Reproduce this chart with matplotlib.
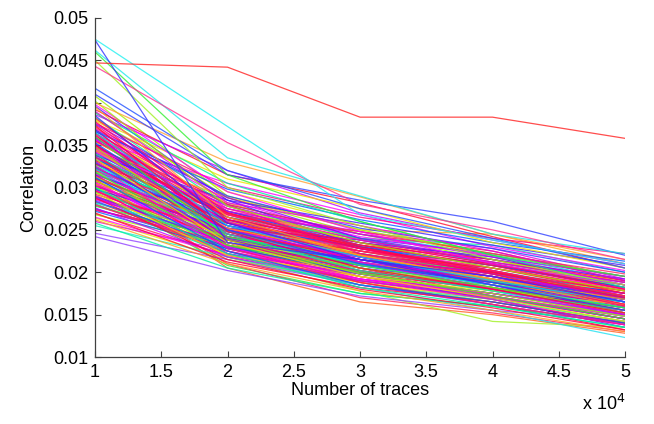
import matplotlib
matplotlib.use("Agg")
import matplotlib.pyplot as plt
import numpy as np

traces = [10000, 20000, 30000, 40000, 50000]

# correlation values (x 1e-3) per key hypothesis, at each number of traces
curves = [
    [44.7, 44.2, 38.3, 38.3, 35.8],
    [47.5, 37.2, 26.8, 23.8, 21.0],
    [47.4, 23.5, 21.5, 19.5, 16.5],
    [44.3, 35.3, 28.0, 25.0, 21.5],
    [46.2, 33.5, 29.0, 24.5, 22.2],
    [46.0, 31.5, 26.0, 22.0, 19.5],
    [45.0, 30.0, 25.5, 21.5, 18.5],
    [41.7, 32.0, 27.5, 24.0, 20.5],
    [41.0, 31.5, 28.5, 26.0, 22.0],
    [40.0, 33.0, 28.9, 24.5, 21.5],
    [40.2, 27.8, 23.5, 20.5, 17.8],
    [39.8, 29.5, 24.8, 21.0, 18.5],
    [39.5, 26.5, 22.0, 19.2, 16.8],
    [39.0, 28.2, 25.5, 22.5, 19.0],
    [38.8, 30.5, 26.0, 22.0, 18.2],
    [38.5, 25.8, 21.5, 18.5, 15.5],
    [38.2, 27.0, 23.2, 20.8, 17.5],
    [38.0, 31.0, 27.5, 23.5, 20.5],
    [37.8, 26.2, 22.8, 19.8, 16.2],
    [37.5, 28.8, 24.0, 21.5, 19.2],
    [37.3, 24.8, 20.5, 18.0, 15.2],
    [37.0, 27.5, 23.8, 21.2, 18.8],
    [36.8, 29.0, 25.2, 22.8, 20.0],
    [36.5, 25.5, 21.8, 19.0, 16.5],
    [36.3, 26.8, 22.5, 20.2, 17.2],
    [36.0, 24.2, 20.8, 18.2, 15.8],
    [35.8, 27.2, 24.5, 21.8, 19.5],
    [35.5, 28.0, 22.2, 19.5, 16.0],
    [35.3, 25.0, 21.0, 18.8, 16.8],
    [35.0, 26.5, 23.0, 20.0, 17.0],
    [34.8, 23.8, 19.8, 17.5, 14.8],
    [34.6, 27.8, 24.2, 22.0, 18.5],
    [34.4, 25.2, 22.0, 19.2, 16.2],
    [34.2, 26.0, 21.2, 18.0, 15.0],
    [34.0, 24.5, 20.2, 17.8, 15.5],
    [33.8, 28.5, 25.8, 23.2, 20.8],
    [33.6, 25.8, 22.5, 20.5, 17.8],
    [33.4, 23.5, 19.5, 17.0, 14.2],
    [33.2, 26.2, 23.5, 21.0, 18.0],
    [33.0, 24.0, 21.5, 19.5, 16.5],
    [32.8, 27.0, 22.8, 20.2, 17.2],
    [32.6, 22.8, 19.0, 16.8, 13.8],
    [32.4, 25.5, 23.0, 20.8, 18.2],
    [32.2, 24.8, 20.8, 18.5, 15.8],
    [32.0, 26.8, 24.8, 22.2, 19.8],
    [31.8, 23.2, 20.0, 17.2, 14.5],
    [31.6, 25.0, 21.8, 19.8, 17.0],
    [31.4, 24.2, 22.2, 20.0, 16.8],
    [31.2, 22.5, 18.5, 16.5, 14.0],
    [31.0, 25.8, 23.2, 21.5, 19.0],
    [30.8, 24.0, 20.5, 18.2, 15.2],
    [30.6, 23.0, 19.2, 17.5, 15.0],
    [30.4, 26.0, 22.0, 19.0, 16.0],
    [30.2, 24.5, 21.2, 19.2, 17.5],
    [30.0, 22.2, 18.2, 16.0, 13.5],
    [29.8, 25.2, 23.8, 21.2, 18.8],
    [29.6, 23.8, 20.2, 18.0, 15.5],
    [29.4, 22.0, 19.5, 17.8, 16.2],
    [29.2, 24.8, 21.5, 20.0, 17.8],
    [29.0, 23.5, 20.8, 18.8, 16.0],
    [28.8, 21.5, 18.0, 15.8, 13.2],
    [28.6, 25.5, 22.8, 20.5, 18.0],
    [28.4, 23.0, 19.8, 17.5, 15.0],
    [28.2, 24.2, 21.0, 18.5, 16.5],
    [28.0, 22.5, 18.8, 16.2, 13.8],
    [27.8, 24.0, 22.2, 19.8, 17.2],
    [27.6, 21.8, 19.0, 17.0, 14.5],
    [27.4, 23.5, 20.0, 18.2, 15.8],
    [27.2, 22.8, 21.5, 19.5, 17.0],
    [27.0, 21.2, 18.2, 16.5, 14.0],
    [26.8, 23.2, 20.5, 18.0, 15.2],
    [26.5, 22.0, 19.2, 17.2, 14.8],
    [26.2, 21.0, 17.8, 15.5, 13.0],
    [26.0, 22.5, 19.5, 17.5, 15.5],
    [25.8, 20.5, 17.5, 16.0, 13.5],
    [25.5, 21.8, 18.5, 16.8, 14.2],
    [24.6, 21.5, 18.5, 16.2, 13.8],
    [24.2, 20.2, 17.2, 15.5, 14.2],
    [36.2, 25.0, 20.5, 17.2, 14.5],
    [35.2, 24.0, 19.5, 16.8, 13.5],
    [34.0, 23.0, 18.8, 16.2, 13.2],
    [33.0, 22.5, 18.2, 15.5, 12.3],
    [32.0, 21.8, 17.8, 14.2, 13.5],
    [31.0, 20.5, 16.5, 15.0, 12.8],
    [30.5, 21.0, 17.0, 15.2, 13.0],
    [29.5, 20.8, 17.5, 16.0, 14.0],
    [38.6, 32.0, 27.0, 23.8, 21.0],
    [37.6, 30.0, 26.5, 24.0, 22.2],
    [36.6, 29.8, 26.2, 23.5, 21.3],
    [39.2, 31.5, 28.2, 24.2, 20.5],
    [40.8, 29.0, 25.0, 22.2, 19.5],
    [35.6, 30.5, 26.8, 23.0, 20.2],
    [34.5, 28.8, 25.0, 24.5, 21.0],
    [33.5, 27.5, 24.8, 22.8, 19.2],
    [32.5, 26.5, 24.0, 23.2, 20.0],
    [31.5, 26.2, 23.5, 21.8, 18.5],
    [30.2, 25.0, 22.5, 21.0, 18.2],
    [37.2, 26.0, 22.2, 19.5, 17.8],
    [36.9, 24.5, 21.0, 18.5, 16.0],
    [35.9, 26.2, 21.8, 18.5, 15.2],
    [34.7, 26.5, 22.0, 20.5, 17.5],
    [33.9, 24.8, 21.0, 18.2, 16.2],
    [32.9, 23.8, 21.5, 19.0, 16.5],
    [31.9, 24.5, 20.5, 17.8, 14.8],
    [30.9, 23.2, 21.0, 19.0, 16.8],
    [29.9, 22.8, 20.0, 18.5, 16.5],
    [28.9, 22.2, 19.8, 17.0, 14.5],
    [27.9, 22.8, 20.2, 17.8, 15.5],
    [33.3, 27.2, 23.2, 20.0, 17.5],
    [32.3, 25.2, 22.5, 19.8, 16.0],
    [31.3, 24.8, 21.2, 18.8, 15.5],
    [30.3, 23.8, 21.8, 20.2, 17.2],
    [35.4, 27.5, 23.5, 21.5, 18.0],
    [34.3, 26.8, 23.0, 19.8, 16.8],
    [38.3, 27.8, 24.0, 21.0, 18.5],
    [39.6, 28.5, 23.0, 20.2, 17.0],
    [36.4, 28.0, 24.5, 22.5, 19.0],
    [37.9, 29.5, 25.5, 21.8, 18.8],
    [36.1, 27.0, 23.0, 20.0, 17.0],
    [35.7, 25.5, 22.0, 19.8, 17.5],
    [35.1, 24.8, 21.5, 18.8, 16.2],
    [34.9, 26.0, 22.8, 20.0, 17.2],
    [34.1, 25.8, 21.8, 19.0, 16.5],
    [33.7, 24.2, 21.0, 18.8, 15.8],
    [33.1, 25.0, 22.2, 19.5, 17.0],
    [32.7, 26.0, 22.0, 19.2, 16.8],
    [32.1, 24.0, 20.8, 18.8, 16.2],
    [31.7, 25.2, 22.0, 19.5, 17.2],
    [31.1, 23.5, 20.2, 18.0, 15.8],
    [30.7, 24.8, 21.8, 19.8, 17.5],
    [30.1, 23.0, 20.0, 18.0, 15.5],
    [29.7, 24.2, 21.2, 19.0, 16.8],
    [29.1, 22.8, 19.5, 17.2, 14.8],
    [28.7, 23.8, 21.0, 18.5, 16.0],
    [28.1, 22.2, 19.0, 17.0, 14.8],
    [27.5, 23.0, 20.5, 18.8, 16.2],
    [26.9, 22.0, 19.0, 17.0, 15.0],
    [26.4, 21.5, 18.8, 16.5, 14.2],
    [37.4, 27.2, 23.5, 20.5, 17.8],
    [36.7, 26.5, 22.8, 20.0, 16.5],
    [35.5, 26.8, 23.2, 20.8, 18.0],
    [34.6, 25.0, 21.5, 19.2, 16.0],
    [33.6, 24.5, 21.8, 19.5, 16.8],
    [32.8, 25.8, 22.2, 20.0, 17.2],
    [31.9, 23.8, 20.5, 18.2, 15.5],
    [31.2, 24.5, 21.5, 19.0, 16.0],
    [30.4, 23.2, 20.8, 18.8, 16.5],
    [29.6, 22.5, 19.2, 17.5, 15.2],
    [28.9, 23.5, 20.5, 18.0, 15.8],
    [28.3, 22.8, 19.8, 18.0, 15.5],
    [38.9, 28.8, 24.5, 21.5, 18.2],
    [37.1, 28.5, 24.0, 21.0, 18.0],
    [35.9, 28.2, 23.8, 21.2, 18.5],
    [34.4, 27.0, 23.5, 21.0, 18.2],
    [33.4, 26.2, 22.5, 20.2, 17.5],
    [32.2, 25.5, 21.2, 18.5, 15.2],
    [31.5, 22.8, 19.5, 17.2, 14.5],
    [30.6, 22.0, 18.8, 16.8, 14.2],
    [29.8, 21.8, 18.5, 16.5, 14.0],
    [36.5, 23.5, 19.8, 17.5, 15.0],
    [35.0, 23.2, 19.2, 17.0, 14.5],
    [33.8, 22.2, 18.5, 16.2, 13.8],
    [34.8, 27.8, 24.0, 22.2, 19.5],
    [33.2, 28.0, 24.5, 22.0, 19.0],
    [31.8, 27.2, 23.8, 21.5, 18.8],
    [30.0, 25.8, 22.8, 20.8, 18.5],
    [28.5, 24.5, 21.8, 19.5, 17.0],
    [27.3, 24.2, 21.2, 19.0, 16.8],
]

special_colors = ['#ff2020', '#20f0f0', '#3030ff', '#ff3090', '#20e8e8',
                  '#30f030', '#a0f020', '#2050ff', '#3040ff', '#ffa030']
palette = ['#ff0040', '#ff00c0', '#2040ff', '#00e0e0', '#ff2060', '#30f030',
           '#c000ff', '#ff0080', '#0060ff', '#ff1030', '#a0f000', '#ff00ff',
           '#ffa020', '#e000e0', '#00f0a0', '#4020ff', '#ff1050', '#f0e000',
           '#ff0060', '#8000ff']
color_overrides = {76: '#9040ff', 77: '#9040ff', 75: '#20f0c0',
                   81: '#20e0f0', 82: '#a0f020', 83: '#ff6020'}

plt.rcParams['font.family'] = ['Liberation Sans', 'DejaVu Sans']
fig = plt.figure(figsize=(6.54, 4.24), dpi=100)
ax = fig.add_axes([95/654, 1 - 357/424, 530/654, 339/424])

x = np.array(traces) / 1e4
n = len(curves)
for i in range(n - 1, -1, -1):
    if i < len(special_colors):
        c = special_colors[i]
    elif i in color_overrides:
        c = color_overrides[i]
    else:
        c = palette[i % len(palette)]
    ax.plot(x, np.array(curves[i]) * 1e-3, color=c, lw=0.9, alpha=0.8)

ax.set_xlim(1, 5)
ax.set_ylim(0.01, 0.05)
ax.set_xticks([1, 1.5, 2, 2.5, 3, 3.5, 4, 4.5, 5])
ax.set_xticklabels(['1', '1.5', '2', '2.5', '3', '3.5', '4', '4.5', '5'])
ax.set_yticks([0.01, 0.015, 0.02, 0.025, 0.03, 0.035, 0.04, 0.045, 0.05])
ax.set_yticklabels(['0.01', '0.015', '0.02', '0.025', '0.03', '0.035', '0.04', '0.045', '0.05'])
for s in ['top', 'right']:
    ax.spines[s].set_visible(False)
for s in ['left', 'bottom']:
    ax.spines[s].set_color('#404040')
    ax.spines[s].set_linewidth(0.9)
ax.tick_params(direction='in', length=4, width=0.8, color='#404040',
               labelsize=13, labelcolor='black', pad=5)
ax.set_xlabel('Number of traces', fontsize=13, labelpad=1)
ax.set_ylabel('Correlation', fontsize=13, labelpad=4)
fig.text(625/654, 1 - 404/424, 'x 10$^4$', ha='right', va='center', fontsize=13)

fig.savefig('out.png', dpi=100)
